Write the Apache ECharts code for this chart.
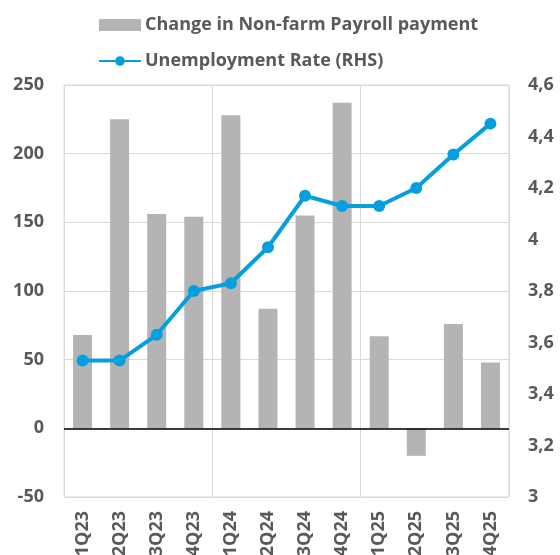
<!DOCTYPE html>
<html>
<head>
<meta charset="utf-8">
<script src="https://cdn.jsdelivr.net/npm/echarts@6/dist/echarts.min.js"></script>
<style>
html,body{margin:0;padding:0;background:#fff;}
#chart{width:560px;height:555px;}
</style>
</head>
<body>
<div id="chart"></div>
<script>
const categories = ['1Q23','2Q23','3Q23','4Q23','1Q24','2Q24','3Q24','4Q24','1Q25','2Q25','3Q25','4Q25'];
const payrollChange = [68, 225, 156, 154, 228, 87, 155, 237, 67, -20, 76, 48];
const unemploymentRate = [3.53, 3.53, 3.63, 3.80, 3.83, 3.97, 4.17, 4.13, 4.13, 4.20, 4.33, 4.45];
const barName = 'Change in Non-farm Payroll payment';
const lineName = 'Unemployment Rate (RHS)';

const font = 'Open Sans';
const textColor = '#595959';
const gridColor = '#d9d9d9';

const chart = echarts.init(document.getElementById('chart'), null, {renderer: 'canvas'});
chart.setOption({
  animation: false,
  backgroundColor: '#ffffff',
  legend: {
    orient: 'vertical',
    left: 93,
    top: 10,
    itemGap: 16,
    itemWidth: 42,
    itemHeight: 12,
    textStyle: {fontFamily: font, fontWeight: 'bold', fontSize: 18, lineHeight: 20, color: textColor, padding: [0,0,0,-1]},
    data: [
      {name: barName, icon: 'rect', itemStyle: {color: '#b4b4b4'}},
      {name: lineName}
    ]
  },
  grid: {
    left: 64, right: 51, top: 85, bottom: 58,
    containLabel: false,
    outerBoundsMode: 'none',
    show: true, borderColor: gridColor, borderWidth: 1
  },
  xAxis: {
    type: 'category',
    data: categories,
    boundaryGap: true,
    axisLine: {show: false},
    axisTick: {show: false},
    axisLabel: {
      rotate: 90, margin: 14, interval: 0,
      fontFamily: font, fontWeight: 'bold', fontSize: 18, color: textColor
    },
    splitLine: {
      show: true,
      interval: function (idx) { return idx % 4 === 0; },
      lineStyle: {color: gridColor, width: 1}
    }
  },
  yAxis: [
    {
      type: 'value', min: -50, max: 250, interval: 50,
      axisLine: {show: false}, axisTick: {show: false},
      axisLabel: {margin: 20, fontFamily: font, fontWeight: 'bold', fontSize: 18, color: textColor},
      splitLine: {show: true, lineStyle: {color: gridColor, width: 1}}
    },
    {
      type: 'value', min: 3, max: 4.6, interval: 0.2,
      axisLine: {show: false}, axisTick: {show: false},
      splitLine: {show: false},
      axisLabel: {
        margin: 19, fontFamily: font, fontWeight: 'bold', fontSize: 18, color: textColor,
        formatter: function (v) { return String(Number(v.toFixed(1))).replace('.', ','); }
      }
    }
  ],
  series: [
    {
      name: barName,
      type: 'bar',
      data: payrollChange,
      barWidth: 19,
      itemStyle: {color: '#b4b4b4'},
      markLine: {
        silent: true, symbol: 'none',
        label: {show: false},
        lineStyle: {color: '#000000', type: 'solid', width: 1.5},
        data: [{yAxis: 0}]
      }
    },
    {
      name: lineName,
      type: 'line',
      yAxisIndex: 1,
      data: unemploymentRate,
      symbol: 'circle',
      symbolSize: 12,
      lineStyle: {color: '#069fdd', width: 4},
      itemStyle: {color: '#069fdd'}
    }
  ]
});
</script>
</body>
</html>
